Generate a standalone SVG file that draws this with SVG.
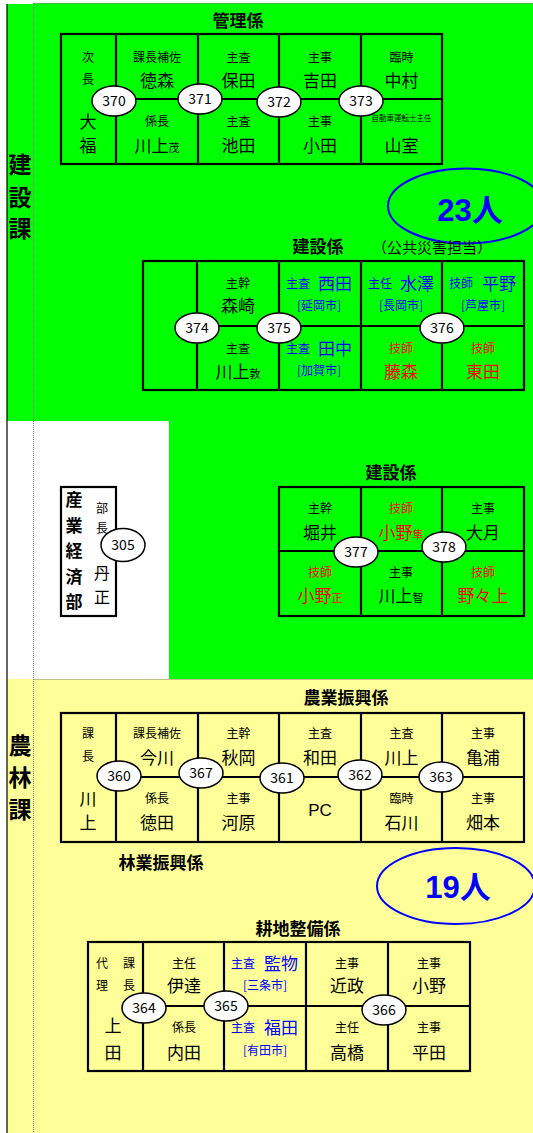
<svg xmlns="http://www.w3.org/2000/svg" width="533" height="1133" viewBox="0 0 533 1133">
<style>
text{font-family:"Noto Sans CJK JP","Noto Sans",sans-serif;fill:#000;text-anchor:middle}
.s{font-size:12px}
.n{font-size:17px}
.x{font-size:11px}
.t{font-size:17px;font-weight:bold}
.v{font-size:23px;font-weight:bold}
.b{fill:#0000ff}
.r{fill:#ff0000}
.num{font-size:14px}
.big{font-family:"Liberation Sans","Noto Sans CJK JP",sans-serif;font-size:31px;font-weight:bold;fill:#0000ff}
.tbl{fill:none;stroke:#000;stroke-width:2.2}
.ov{fill:#fff;stroke:#000;stroke-width:1.5}
.cnt{fill:none;stroke:#0000ff;stroke-width:2}
.dash{stroke:#808080;stroke-width:1;stroke-dasharray:1 1;fill:none}
</style>
<rect x="0" y="0" width="533" height="1133" fill="#fff"/>
<!-- backgrounds -->
<rect x="7" y="4" width="27" height="417" fill="#00ff00"/>
<rect x="34" y="3" width="499" height="418" fill="#00ff00"/>
<rect x="169" y="421" width="364" height="258" fill="#00ff00"/>
<rect x="7" y="679" width="526" height="454" fill="#ffff99"/>
<line x1="7" y1="4" x2="7" y2="1133" stroke="#000" stroke-width="1.2"/>
<path class="dash" d="M33.5 3V1133M33.5 3.5H533M33.5 679.5H533"/>

<g id="label-kensetsu">
<text class="v" x="20" y="173">建</text>
<text class="v" x="20" y="206">設</text>
<text class="v" x="20" y="237">課</text>
</g>
<g id="label-norin">
<text class="v" x="20" y="754">農</text>
<text class="v" x="20" y="786">林</text>
<text class="v" x="20" y="818">課</text>
</g>

<g id="connectors">
<!-- table 1 -->
<rect class="tbl" x="61" y="34" width="381" height="130"/>
<path class="tbl" d="M116 34V164M198 34V164M279 34V164M361 34V164M116 99H442"/>
<!-- table 2 -->
<rect class="tbl" x="143" y="261" width="381" height="129"/>
<path class="tbl" d="M197 261V390M279 261V390M361 261V390M442 261V390M197 326H524"/>
<!-- table 3 -->
<rect class="tbl" x="279" y="487" width="245" height="129"/>
<path class="tbl" d="M361 487V616M442 487V616M279 551H524"/>
<!-- sangyo box -->
<rect class="tbl" x="61" y="487" width="55" height="129"/>
<!-- table 4 -->
<rect class="tbl" x="61" y="713" width="463" height="129"/>
<path class="tbl" d="M116 713V842M198 713V842M279 713V842M361 713V842M442 713V842M116 777H524"/>
<!-- table 5 -->
<rect class="tbl" x="88" y="942" width="382" height="129"/>
<path class="tbl" d="M143 942V1071M224 942V1071M306 942V1071M388 942V1071M143 1006H470"/>
</g>

<!-- 管理係 -->
<g id="kanri">
<text class="t" x="238" y="27">管理係</text>
<g id="c-ofuku"><text class="s" x="88" y="61.5">次</text><text class="s" x="88" y="84">長</text><text class="n" x="88" y="127.5">大</text><text class="n" x="88" y="151.5">福</text></g>
<g id="c-tokumori"><text class="s" x="157" y="61.5">課長補佐</text><text class="n" x="157" y="86.5">徳森</text></g>
<g id="c-kawakami-s"><text class="s" x="157" y="125.5">係長</text><text class="n" x="157" y="151.5">川上<tspan class="x">茂</tspan></text></g>
<g id="c-yasuda"><text class="s" x="238.5" y="61.5">主査</text><text class="n" x="238.5" y="86.5">保田</text></g>
<g id="c-ikeda"><text class="s" x="238.5" y="125.5">主査</text><text class="n" x="238.5" y="151.5">池田</text></g>
<g id="c-yoshida"><text class="s" x="320" y="61.5">主事</text><text class="n" x="320" y="86.5">吉田</text></g>
<g id="c-oda"><text class="s" x="320" y="125.5">主事</text><text class="n" x="320" y="151.5">小田</text></g>
<g id="c-nakamura"><text class="s" x="401.5" y="61.5">臨時</text><text class="n" x="401.5" y="86.5">中村</text></g>
<g id="c-yamamuro"><text x="401.5" y="121" style="font-size:7.5px">自動車運転士主任</text><text class="n" x="401.5" y="151.5">山室</text></g>
</g>
<g id="n370"><ellipse class="ov" cx="114" cy="101" rx="22" ry="15"/><text class="num" x="114" y="106">370</text></g>
<g id="n371"><ellipse class="ov" cx="200" cy="99" rx="22" ry="15"/><text class="num" x="200" y="104">371</text></g>
<g id="n372"><ellipse class="ov" cx="279" cy="102" rx="22" ry="15"/><text class="num" x="279" y="107">372</text></g>
<g id="n373"><ellipse class="ov" cx="361" cy="101" rx="22" ry="15"/><text class="num" x="361" y="106">373</text></g>

<g id="count23"><ellipse class="cnt" cx="466" cy="206" rx="78" ry="37.5"/><text class="big" x="470" y="221">23人</text></g>

<!-- 建設係 (公共災害担当) -->
<g id="kensetsu1">
<text class="t" x="318" y="253">建設係</text>
<text x="432" y="252.5" style="font-size:15px">（公共災害担当）</text>
<g id="c-morisaki"><text class="s" x="238" y="287.5">主幹</text><text class="n" x="238" y="311.5">森崎</text></g>
<g id="c-kawakami-a"><text class="s" x="238" y="352.5">主査</text><text class="n" x="238" y="377.5">川上<tspan class="x">敦</tspan></text></g>
<g id="c-nishida"><text class="s b" x="298" y="287.5">主査</text><text class="n b" x="335" y="289.5">西田</text><text class="s b" x="319" y="309.5">[延岡市]</text></g>
<g id="c-tanaka"><text class="s b" x="298" y="352.5">主査</text><text class="n b" x="335" y="354.5">田中</text><text class="s b" x="319" y="374.5">[加賀市]</text></g>
<g id="c-mizusawa"><text class="s b" x="380" y="287.5">主任</text><text class="n b" x="417" y="289.5">水澤</text><text class="s b" x="401" y="309.5">[長岡市]</text></g>
<g id="c-fujimori"><text class="s r" x="401" y="352.5">技師</text><text class="n r" x="401" y="377.5">藤森</text></g>
<g id="c-hirano"><text class="s b" x="461" y="287.5">技師</text><text class="n b" x="499" y="289.5">平野</text><text class="s b" x="483" y="309.5">[芦屋市]</text></g>
<g id="c-higashida"><text class="s r" x="483" y="352.5">技師</text><text class="n r" x="483" y="377.5">東田</text></g>
</g>
<g id="n374"><ellipse class="ov" cx="197" cy="328" rx="22" ry="15"/><text class="num" x="197" y="333">374</text></g>
<g id="n375"><ellipse class="ov" cx="279" cy="328" rx="22" ry="15"/><text class="num" x="279" y="333">375</text></g>
<g id="n376"><ellipse class="ov" cx="442" cy="328" rx="22" ry="15"/><text class="num" x="442" y="333">376</text></g>

<!-- 建設係 -->
<g id="kensetsu2">
<text class="t" x="391" y="478.5">建設係</text>
<g id="c-horii"><text class="s" x="320" y="512.5">主幹</text><text class="n" x="320" y="538.5">堀井</text></g>
<g id="c-ono-m"><text class="s r" x="320" y="576.5">技師</text><text class="n r" x="320" y="601.5">小野<tspan class="x r">正</tspan></text></g>
<g id="c-ono-h"><text class="s r" x="401" y="512.5">技師</text><text class="n r" x="401" y="538.5">小野<tspan class="x r">隼</tspan></text></g>
<g id="c-kawakami-t"><text class="s" x="401" y="576.5">主事</text><text class="n" x="401" y="601.5">川上<tspan class="x">智</tspan></text></g>
<g id="c-otsuki"><text class="s" x="483" y="512.5">主事</text><text class="n" x="483" y="538.5">大月</text></g>
<g id="c-nonoue"><text class="s r" x="483" y="576.5">技師</text><text class="n r" x="483" y="601.5">野々上</text></g>
</g>
<g id="n377"><ellipse class="ov" cx="356" cy="552" rx="22" ry="15"/><text class="num" x="356" y="557">377</text></g>
<g id="n378"><ellipse class="ov" cx="444" cy="547" rx="22" ry="15"/><text class="num" x="444" y="552">378</text></g>

<!-- 産業経済部 -->
<g id="sangyo">
<text class="t" x="74" y="506">産</text>
<text class="t" x="74" y="531.5">業</text>
<text class="t" x="74" y="557">経</text>
<text class="t" x="74" y="582.5">済</text>
<text class="t" x="74" y="608">部</text>
<text class="s" x="102" y="512.5">部</text>
<text class="s" x="102" y="532.5">長</text>
<text x="102" y="579" style="font-size:16px">丹</text>
<text x="102" y="603" style="font-size:16px">正</text>
</g>
<g id="n305"><ellipse class="ov" cx="123" cy="545" rx="22" ry="16.5"/><text class="num" x="123" y="550">305</text></g>

<!-- 農業振興係 -->
<g id="nogyo">
<text class="t" x="346" y="703.5">農業振興係</text>
<g id="c-kawakami-k"><text class="s" x="88" y="737.5">課</text><text class="s" x="88" y="760.5">長</text><text class="n" x="88" y="804.5">川</text><text class="n" x="88" y="828.5">上</text></g>
<g id="c-imagawa"><text class="s" x="157" y="737.5">課長補佐</text><text class="n" x="157" y="763.5">今川</text></g>
<g id="c-tokuda"><text class="s" x="157" y="802.5">係長</text><text class="n" x="157" y="828.5">徳田</text></g>
<g id="c-akioka"><text class="s" x="238.5" y="737.5">主幹</text><text class="n" x="238.5" y="763.5">秋岡</text></g>
<g id="c-kawahara"><text class="s" x="238.5" y="802.5">主事</text><text class="n" x="238.5" y="828.5">河原</text></g>
<g id="c-wada"><text class="s" x="320" y="737.5">主査</text><text class="n" x="320" y="763.5">和田</text></g>
<g id="c-pc"><text x="320" y="816" style="font-family:'Liberation Sans',sans-serif;font-size:17px">PC</text></g>
<g id="c-kawakami-n"><text class="s" x="401.5" y="737.5">主査</text><text class="n" x="401.5" y="763.5">川上</text></g>
<g id="c-ishikawa"><text class="s" x="401.5" y="802.5">臨時</text><text class="n" x="401.5" y="828.5">石川</text></g>
<g id="c-kameura"><text class="s" x="483" y="737.5">主事</text><text class="n" x="483" y="763.5">亀浦</text></g>
<g id="c-hatamoto"><text class="s" x="483" y="802.5">主事</text><text class="n" x="483" y="828.5">畑本</text></g>
</g>
<g id="n360"><ellipse class="ov" cx="119" cy="776" rx="22" ry="15"/><text class="num" x="119" y="781">360</text></g>
<g id="n367"><ellipse class="ov" cx="201" cy="773" rx="22" ry="15"/><text class="num" x="201" y="778">367</text></g>
<g id="n361"><ellipse class="ov" cx="282" cy="778" rx="22" ry="15"/><text class="num" x="282" y="783">361</text></g>
<g id="n362"><ellipse class="ov" cx="360" cy="775" rx="22" ry="15"/><text class="num" x="360" y="780">362</text></g>
<g id="n363"><ellipse class="ov" cx="441" cy="777" rx="22" ry="15"/><text class="num" x="441" y="782">363</text></g>

<g id="ringyo"><text class="t" x="161" y="868.5">林業振興係</text></g>

<g id="count19"><ellipse class="cnt" cx="456" cy="886" rx="79" ry="38"/><text class="big" x="458" y="898">19人</text></g>

<!-- 耕地整備係 -->
<g id="kochi">
<text class="t" x="298" y="934.5">耕地整備係</text>
<g id="c-ueda"><text class="s" x="102" y="967.5">代</text><text class="s" x="129" y="967.5">課</text><text class="s" x="102" y="989.5">理</text><text class="s" x="129" y="989.5">長</text><text class="n" x="113" y="1031.5">上</text><text class="n" x="113" y="1058.5">田</text></g>
<g id="c-date"><text class="s" x="184" y="967.5">主任</text><text class="n" x="184" y="991.5">伊達</text></g>
<g id="c-uchida"><text class="s" x="184" y="1031.5">係長</text><text class="n" x="184" y="1058.5">内田</text></g>
<g id="c-kenmotsu"><text class="s b" x="243" y="967.5">主査</text><text class="n b" x="281" y="969.5">監物</text><text class="s b" x="265" y="989.5">[三条市]</text></g>
<g id="c-fukuda"><text class="s b" x="243" y="1031.5">主査</text><text class="n b" x="281" y="1033.5">福田</text><text class="s b" x="265" y="1054.5">[有田市]</text></g>
<g id="c-chikamasa"><text class="s" x="347" y="967.5">主事</text><text class="n" x="347" y="991.5">近政</text></g>
<g id="c-takahashi"><text class="s" x="347" y="1031.5">主任</text><text class="n" x="347" y="1058.5">高橋</text></g>
<g id="c-ono-k"><text class="s" x="429" y="967.5">主事</text><text class="n" x="429" y="991.5">小野</text></g>
<g id="c-hirata"><text class="s" x="429" y="1031.5">主事</text><text class="n" x="429" y="1058.5">平田</text></g>
</g>
<g id="n364"><ellipse class="ov" cx="144" cy="1008" rx="22" ry="15"/><text class="num" x="144" y="1013">364</text></g>
<g id="n365"><ellipse class="ov" cx="226" cy="1006" rx="22" ry="15"/><text class="num" x="226" y="1011">365</text></g>
<g id="n366"><ellipse class="ov" cx="384" cy="1010" rx="22" ry="15"/><text class="num" x="384" y="1015">366</text></g>
</svg>
